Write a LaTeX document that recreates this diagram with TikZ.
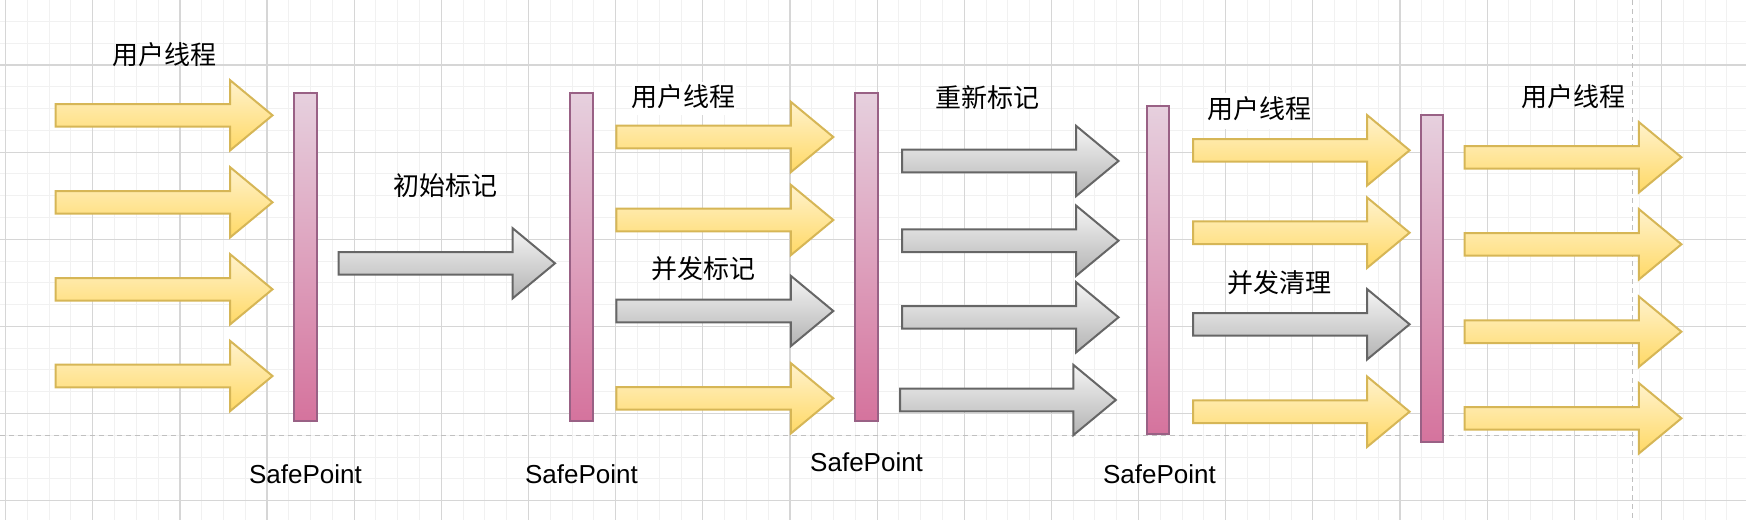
\documentclass[tikz,border=0pt]{standalone}
\usepackage{fontspec}
\setmainfont{Liberation Sans}
\newfontfamily\cjk{Noto Sans CJK SC}
\definecolor{ylwtop}{HTML}{FFF2CC}
\definecolor{ylwbot}{HTML}{FFD966}
\definecolor{ylwline}{HTML}{D6B656}
\definecolor{grytop}{HTML}{F5F5F5}
\definecolor{grybot}{HTML}{B3B3B3}
\definecolor{gryline}{HTML}{666666}
\definecolor{pnktop}{HTML}{E6D0DE}
\definecolor{pnkbot}{HTML}{D5739D}
\definecolor{pnkline}{HTML}{996185}
\definecolor{gridmin}{HTML}{F1F1F1}
\definecolor{gridmaj}{HTML}{D6D6D6}
\definecolor{dashcol}{HTML}{C0C0C0}
\tikzset{
  yarrow/.style={draw=ylwline, line width=2pt, top color=ylwtop, bottom color=ylwbot, line join=miter},
  garrow/.style={draw=gryline, line width=2pt, top color=grytop, bottom color=grybot, line join=miter},
  spbar/.style={draw=pnkline, line width=2pt, top color=pnktop, bottom color=pnkbot, minimum width=22.5pt, minimum height=327.3pt, inner sep=0pt},
  cjklbl/.style={font=\fontsize{26}{30}\selectfont\cjk, inner sep=0pt, anchor=base},
  splbl/.style={font=\fontsize{26}{30}\selectfont, inner sep=0pt, anchor=base},
  gminor/.style={draw=gridmin, line width=1pt},
  gmajor/.style={draw=gridmaj, line width=1.2pt},
  guide/.style={draw=dashcol, line width=1.5pt, dash pattern=on 4.5pt off 4.5pt}
}
\newcommand\fatarr[4]{%
  \path[#1] (#2,#4-11.3) -- ({#3-42.5},#4-11.3) -- ({#3-42.5},#4-35.2) -- (#3,#4)
    -- ({#3-42.5},#4+35.2) -- ({#3-42.5},#4+11.3) -- (#2,#4+11.3) -- cycle;}
\begin{document}
\begin{tikzpicture}[x=1pt,y=-1pt]
\useasboundingbox (0,0) rectangle (1746,520);
\fill[white] (0,0) rectangle (1746,520);
% grid
\foreach \i in {0,...,80} {\draw[gminor] ({5.6+\i*21.7875},0) -- ({5.6+\i*21.7875},520);}
\foreach \i in {0,...,24} {\draw[gminor] (0,{-0.4+\i*21.7875}) -- (1746,{-0.4+\i*21.7875});}
\foreach \i in {0,...,19} {\draw[gmajor] ({5.6+\i*87.15},0) -- ({5.6+\i*87.15},520);}
\foreach \i in {0,...,5} {\draw[gmajor] (0,{65+\i*87.15}) -- (1746,{65+\i*87.15});}
% guide lines
\coordinate (hl) at (0,435.5);
\coordinate (hr) at (1746,435.5);
\coordinate (vt) at (1632.7,0);
\coordinate (vb) at (1632.7,520);
\draw[guide] (hl) -- (hr);
\draw[guide] (vt) -- (vb);
% label backgrounds
\fill[white] (631.7,81.7) rectangle (736,115);
\fill[white] (1207.5,93.3) rectangle (1312,128.5);
% segment 1
\fatarr{yarrow}{55.5}{272.5}{115.3}
\fatarr{yarrow}{55.5}{272.5}{202.3}
\fatarr{yarrow}{55.5}{272.5}{289.3}
\fatarr{yarrow}{55.5}{272.5}{376}
\node[spbar] (sp1) at (305.5,257) {};
\fatarr{garrow}{338.7}{555}{263.3}
\node[spbar] (sp2) at (581.5,257) {};
% segment 2
\fatarr{yarrow}{616.4}{833.3}{137}
\fatarr{yarrow}{616.4}{833.3}{220}
\fatarr{garrow}{616.4}{833.3}{311}
\fatarr{yarrow}{616.4}{833.3}{398.3}
\node[spbar] (sp3) at (866.6,257) {};
% segment 3
\fatarr{garrow}{902.2}{1118.5}{161}
\fatarr{garrow}{902.2}{1118.5}{240.7}
\fatarr{garrow}{902.2}{1118.5}{317.3}
\fatarr{garrow}{900}{1115.8}{400}
\node[spbar] (sp4) at (1158.2,270) {};
% segment 4
\fatarr{yarrow}{1193}{1409.6}{150.3}
\fatarr{yarrow}{1193}{1409.6}{232.7}
\fatarr{garrow}{1193}{1409.6}{324.3}
\fatarr{yarrow}{1193}{1409.6}{411.7}
\node[spbar] (sp5) at (1431.8,278.6) {};
% segment 5
\fatarr{yarrow}{1464.7}{1681.4}{157.3}
\fatarr{yarrow}{1464.7}{1681.4}{244.3}
\fatarr{yarrow}{1464.7}{1681.4}{331.7}
\fatarr{yarrow}{1464.7}{1681.4}{418.3}
% labels
\node[cjklbl] (l1) at (164.3,64.7) {用户线程};
\node[cjklbl] (l2) at (445.7,195.3) {初始标记};
\node[cjklbl] (l3) at (683.5,106.3) {用户线程};
\node[cjklbl] (l4) at (703.8,278) {并发标记};
\node[cjklbl] (l5) at (987.7,107.3) {重新标记};
\node[cjklbl] (l6) at (1259.7,118.7) {用户线程};
\node[cjklbl] (l7) at (1279.8,292) {并发清理};
\node[cjklbl] (l8) at (1573.8,106.3) {用户线程};
\node[splbl] (s1) at (305.5,483) {SafePoint};
\node[splbl] (s2) at (581.5,483) {SafePoint};
\node[splbl] (s3) at (866.6,471.7) {SafePoint};
\node[splbl] (s4) at (1159.5,483) {SafePoint};
\end{tikzpicture}
\end{document}
